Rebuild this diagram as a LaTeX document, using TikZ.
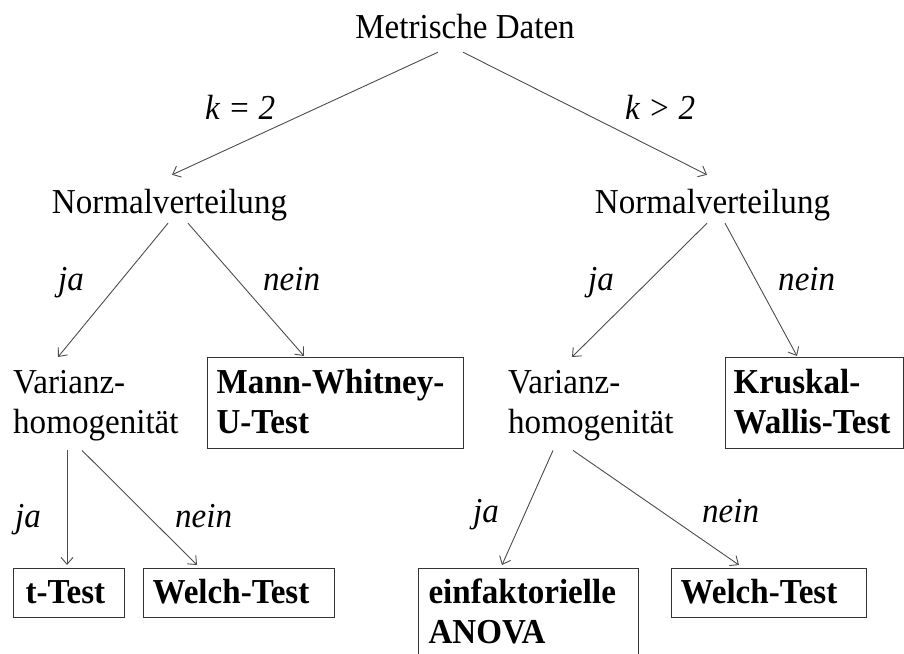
\documentclass[tikz,border=0pt]{standalone}
\usepackage{fontspec}
\setmainfont{Liberation Serif}[FakeStretch=0.945]
\usetikzlibrary{arrows.meta}
\newcommand\tstr{\rule{0pt}{24pt}}
\newcommand\bstr{\rule[-8pt]{0pt}{8pt}}
\newcommand\btop{\rule{0pt}{25pt}}
\newcommand\bbot{\rule[-4pt]{0pt}{4pt}}
\begin{document}
\begin{tikzpicture}[x=1pt,y=-1pt,
  txt/.style={inner sep=0pt, font=\fontsize{35}{40}\selectfont, text=black},
  lbl/.style={txt, text height=23pt, text depth=8pt},
  lab/.style={lbl, font=\fontsize{35}{40}\selectfont\itshape, anchor=base west},
  two/.style={txt, align=left, anchor=north west},
  res/.style={draw=black!80, line width=1.1pt, inner xsep=#1, inner ysep=0pt,
    anchor=north west, align=left, font=\fontsize{35}{40}\selectfont\bfseries, text=black},
  arr/.style={draw=black!70, line width=0.9pt, -{Straight Barb[length=7pt,width=12pt]}}
]
\path[use as bounding box] (0,0) rectangle (904,653);
\clip (0,0) rectangle (904,653);

% text nodes
\node[lbl, anchor=base] (md) at (465,38) {Metrische Daten};
\node[lab] (k2) at (205,119) {k = 2};
\node[lab] (kg) at (625,119) {k > 2};
\node[lbl, anchor=base] (nvl) at (169.5,213) {Normalverteilung};
\node[lbl, anchor=base] (nvr) at (712.5,213) {Normalverteilung};
\node[lab] (ja1) at (58,290) {ja};
\node[lab] (nein1) at (263,290) {nein};
\node[lab] (ja2) at (588,290) {ja};
\node[lab] (nein2) at (778,290) {nein};
\node[two] (vl) at (13,369) {\tstr Varianz-\\homogenität\bstr};
\node[two] (vr) at (508,369) {\tstr Varianz-\\homogenität\bstr};
\node[lab] (ja3) at (15,527) {ja};
\node[lab] (nein3) at (175,527) {nein};
\node[lab] (ja4) at (473,522) {ja};
\node[lab] (nein4) at (702,522) {nein};

% result boxes
\node[res=9, text width=238pt, minimum height=91pt] (mw) at (207,357) {\btop Mann-Whitney-\\U-Test\bbot};
\node[res=8, text width=162pt, minimum height=91pt] (kw) at (725,357) {\btop Kruskal-\\Wallis-Test\bbot};
\node[res=12, text width=87pt, minimum height=49pt] (tt) at (13,568) {\btop t-Test\bbot};
\node[res=9, text width=173pt, minimum height=49pt] (wl) at (143,568) {\btop Welch-Test\bbot};
\node[res=10, text width=200pt, minimum height=89pt] (ea) at (418,568) {\btop einfaktorielle\\ANOVA\bbot};
\node[res=9, text width=177pt, minimum height=49pt] (wr) at (671,568) {\btop Welch-Test\bbot};

% connectors
\draw[arr] ([shift={(-27,6)}]md.south) -- ([shift={(2.5,-15)}]nvl.north);
\draw[arr] ([shift={(-2,6)}]md.south) -- ([shift={(-5.5,-15)}]nvr.north);
\draw[arr] ([shift={(-1.5,2)}]nvl.south) -- ([shift={(45,-12)}]vl.north west);
\draw[arr] ([shift={(18.5,2)}]nvl.south) -- ([shift={(97,-1)}]mw.north west);
\draw[arr] ([shift={(-5.5,2)}]nvr.south) -- ([shift={(64,-12)}]vr.north west);
\draw[arr] ([shift={(12.5,2)}]nvr.south) -- ([shift={(72,-1)}]kw.north west);
\draw[arr] ([shift={(54,9)}]vl.south west) -- ([shift={(54,-3)}]tt.north west);
\draw[arr] ([shift={(69,9)}]vl.south west) -- ([shift={(54,-3)}]wl.north west);
\draw[arr] ([shift={(45,9)}]vr.south west) -- ([shift={(84,-3)}]ea.north west);
\draw[arr] ([shift={(65,9)}]vr.south west) -- ([shift={(68,-3)}]wr.north west);
\end{tikzpicture}
\end{document}
